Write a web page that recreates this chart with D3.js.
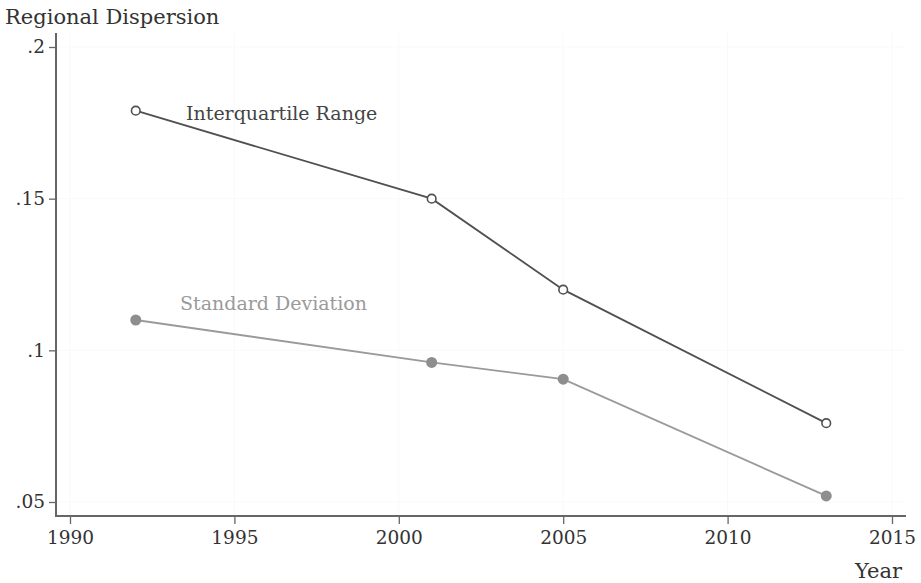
<!DOCTYPE html>
<html><head><meta charset="utf-8">
<script src="https://cdn.jsdelivr.net/npm/d3@7"></script>
<style>body{margin:0;background:#fff}svg{display:block}text{font-family:"DejaVu Serif",serif}</style>
</head><body><svg id="c" width="921" height="583"></svg>
<script>
const years = [1992, 2001, 2005, 2013];
const iqr = [0.179, 0.150, 0.120, 0.076];
const sd = [0.110, 0.096, 0.0905, 0.052];
const xTicks = [1990, 1995, 2000, 2005, 2010, 2015];
const yTicks = [0.05, 0.10, 0.15, 0.20];
const yTickLabels = [".05", ".1", ".15", ".2"];

const svg = d3.select("#c");
const x = d3.scaleLinear().domain([1990, 2015]).range([70, 892]);
const y = d3.scaleLinear().domain([0.05, 0.2]).range([502, 47]);
const axisY0 = 56, axisX0 = 516;

// faint gridlines
svg.append("g").selectAll("line").data(xTicks).join("line")
  .attr("x1", d => x(d)).attr("x2", d => x(d)).attr("y1", 33).attr("y2", axisX0)
  .attr("stroke", "#f9f9f9").attr("stroke-width", 1);
svg.append("g").selectAll("line").data(yTicks).join("line")
  .attr("x1", axisY0).attr("x2", 905).attr("y1", d => y(d)).attr("y2", d => y(d))
  .attr("stroke", "#f9f9f9").attr("stroke-width", 1);

// axes
const xAxis = d3.axisBottom(x).tickValues(xTicks).tickFormat(d3.format("d")).tickSize(8).tickPadding(7);
const gx = svg.append("g").attr("transform", `translate(0,${axisX0})`).call(xAxis);
gx.select(".domain").remove();
gx.selectAll("line").attr("stroke", "#666").attr("stroke-width", 1.3);
gx.selectAll("text").attr("font-size", 18.5).attr("fill", "#333");
const yAxis = d3.axisLeft(y).tickValues(yTicks).tickFormat((d, i) => yTickLabels[i]).tickSize(7).tickPadding(4);
const gy = svg.append("g").attr("transform", `translate(${axisY0},0)`).call(yAxis);
gy.select(".domain").remove();
gy.selectAll("line").attr("stroke", "#666").attr("stroke-width", 1.3);
gy.selectAll("text").attr("font-size", 18.5).attr("fill", "#333");

svg.append("line").attr("x1", axisY0).attr("x2", axisY0).attr("y1", 33).attr("y2", axisX0 + 1)
  .attr("stroke", "#666").attr("stroke-width", 2);
svg.append("line").attr("x1", axisY0).attr("x2", 906).attr("y1", axisX0).attr("y2", axisX0)
  .attr("stroke", "#666").attr("stroke-width", 2);

// titles
svg.append("text").attr("x", 5).attr("y", 24).attr("font-size", 21).attr("fill", "#333").text("Regional Dispersion");
svg.append("text").attr("x", 902).attr("y", 578).attr("text-anchor", "end").attr("font-size", 21).attr("fill", "#333").text("Year");

const line = d3.line().x(d => x(d[0])).y(d => y(d[1]));

// SD series
const sdData = years.map((yr, i) => [yr, sd[i]]);
svg.append("path").datum(sdData).attr("d", line).attr("fill", "none").attr("stroke", "#9a9a9a").attr("stroke-width", 1.8);
svg.append("g").selectAll("circle").data(sdData).join("circle")
  .attr("cx", d => x(d[0])).attr("cy", d => y(d[1])).attr("r", 5.5).attr("fill", "#8e8e8e");

// IQR series
const iqrData = years.map((yr, i) => [yr, iqr[i]]);
svg.append("path").datum(iqrData).attr("d", line).attr("fill", "none").attr("stroke", "#505050").attr("stroke-width", 1.8);
svg.append("g").selectAll("circle").data(iqrData).join("circle")
  .attr("cx", d => x(d[0])).attr("cy", d => y(d[1])).attr("r", 4.3).attr("fill", "#fff")
  .attr("stroke", "#505050").attr("stroke-width", 1.6);

// series labels
svg.append("text").attr("x", 186).attr("y", 120).attr("font-size", 19).attr("fill", "#444").text("Interquartile Range");
svg.append("text").attr("x", 180).attr("y", 310).attr("font-size", 19).attr("fill", "#9a9a9a").text("Standard Deviation");
</script></body></html>
